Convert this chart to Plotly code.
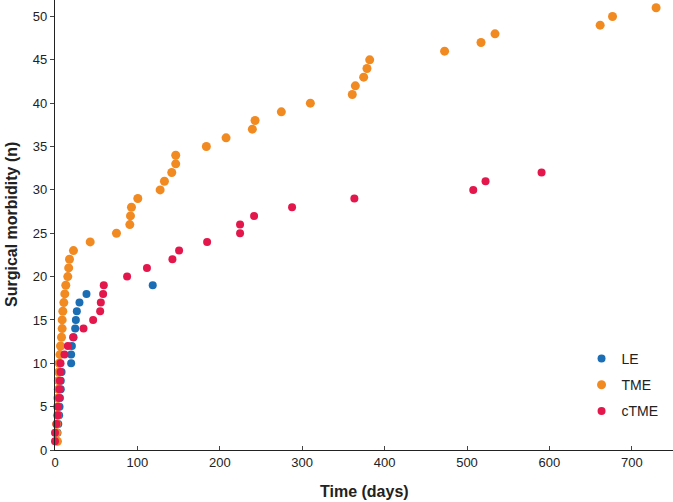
import plotly.graph_objects as go

# Surgical morbidity counts (cumulative n) and the day each occurred
le_n = list(range(1, 20))
le_days = [2, 3, 4, 5, 5.5, 6, 7, 7, 8, 19.6, 19.6, 20.5, 22.5, 24.5, 25.3, 26.5, 29.7, 38.2, 118.6]

tme_n = list(range(1, 52))
tme_days = [3, 2, 2, 3, 3, 3.5, 4, 4, 4.5, 5, 6, 6.7, 7.9, 8.7, 8.7, 9.5, 10.7, 11.9, 13.1, 15.5,
            16.6, 17.6, 22.4, 42.7, 74.6, 90.8, 91.6, 92.8, 100.5, 127.6, 132.8, 141.7, 146.5,
            146.5, 183.7, 207.6, 239.5, 242.8, 274.7, 309.9, 360.8, 364.5, 374.6, 378.6, 381.9,
            472.8, 517, 534, 661.6, 676.6, 729.5]

ctme_n = list(range(1, 33))
ctme_days = [0, 0, 1.8, 3.4, 3.9, 5, 5.5, 5.9, 6.7, 6.7, 11.5, 15.6, 22, 34.6, 46.3, 54.8, 55.6,
             58.4, 59.2, 87.5, 111.6, 142.5, 150.6, 184.6, 224.6, 224.6, 241.6, 287.7, 363.3,
             507.6, 522.5, 590.5]

x_ticks = [0, 100, 200, 300, 400, 500, 600, 700]
y_ticks = [0, 5, 10, 15, 20, 25, 30, 35, 40, 45, 50]

x_title = "<b>Time (days)</b>"
y_title = "<b>Surgical morbidity (n)</b>"

title_font = dict(family="Liberation Sans Narrow, Arial Narrow, Liberation Sans, sans-serif",
                  size=16, color="#222")

fig = go.Figure()
fig.add_trace(go.Scatter(x=le_days, y=le_n, mode="markers", name="LE", legendgroup="a",
                         marker=dict(color="#1b6db4", size=8), cliponaxis=False))
fig.add_trace(go.Scatter(x=tme_days, y=tme_n, mode="markers", name="TME", legendgroup="b",
                         marker=dict(color="#f28a22", size=9), cliponaxis=False))
fig.add_trace(go.Scatter(x=ctme_days, y=ctme_n, mode="markers", name="cTME", legendgroup="c",
                         marker=dict(color="#e3174b", size=8), cliponaxis=False))

fig.update_layout(
    width=673, height=502,
    margin=dict(l=54.5, r=0, t=0, b=52, autoexpand=False),
    paper_bgcolor="white", plot_bgcolor="white",
    font=dict(family="Liberation Sans, Arial, sans-serif", size=13, color="#222"),
    showlegend=True,
    legend=dict(x=0.852, y=0.238, xanchor="left", yanchor="top",
                font=dict(size=14, color="#222"), itemsizing="trace", itemwidth=30,
                bgcolor="rgba(0,0,0,0)", tracegroupgap=5, traceorder="grouped"),
    xaxis=dict(range=[0, 750], tickvals=x_ticks, showgrid=False, zeroline=False,
               showline=True, linecolor="#222", linewidth=1.3, automargin=False,
               ticks="inside", ticklen=4, tickcolor="#444",
               tickfont=dict(size=13, color="#222")),
    yaxis=dict(range=[0, 51.9], tickvals=y_ticks, showgrid=False, zeroline=False,
               showline=True, linecolor="#222", linewidth=1.3, automargin=False,
               ticks="outside", ticklen=4, tickcolor="#444",
               tickfont=dict(size=13, color="#222")),
    annotations=[
        dict(text=x_title, xref="paper", yref="paper", x=0.5, y=0, xanchor="center",
             yanchor="top", yshift=-31, showarrow=False, font=title_font),
        dict(text=y_title, xref="paper", yref="paper", x=0, y=0.5, xanchor="center",
             yanchor="middle", xshift=-44, textangle=-90, showarrow=False, font=title_font),
    ],
)

fig.write_html("out.html", config={"displayModeBar": False})

# remove the browser's default body margin so the figure sits at the page's top-left corner
with open("out.html", "r", encoding="utf-8") as f:
    html = f.read()
html = html.replace("<head>", "<head><style>html,body{margin:0;padding:0;overflow:hidden;}</style>", 1)
with open("out.html", "w", encoding="utf-8") as f:
    f.write(html)
